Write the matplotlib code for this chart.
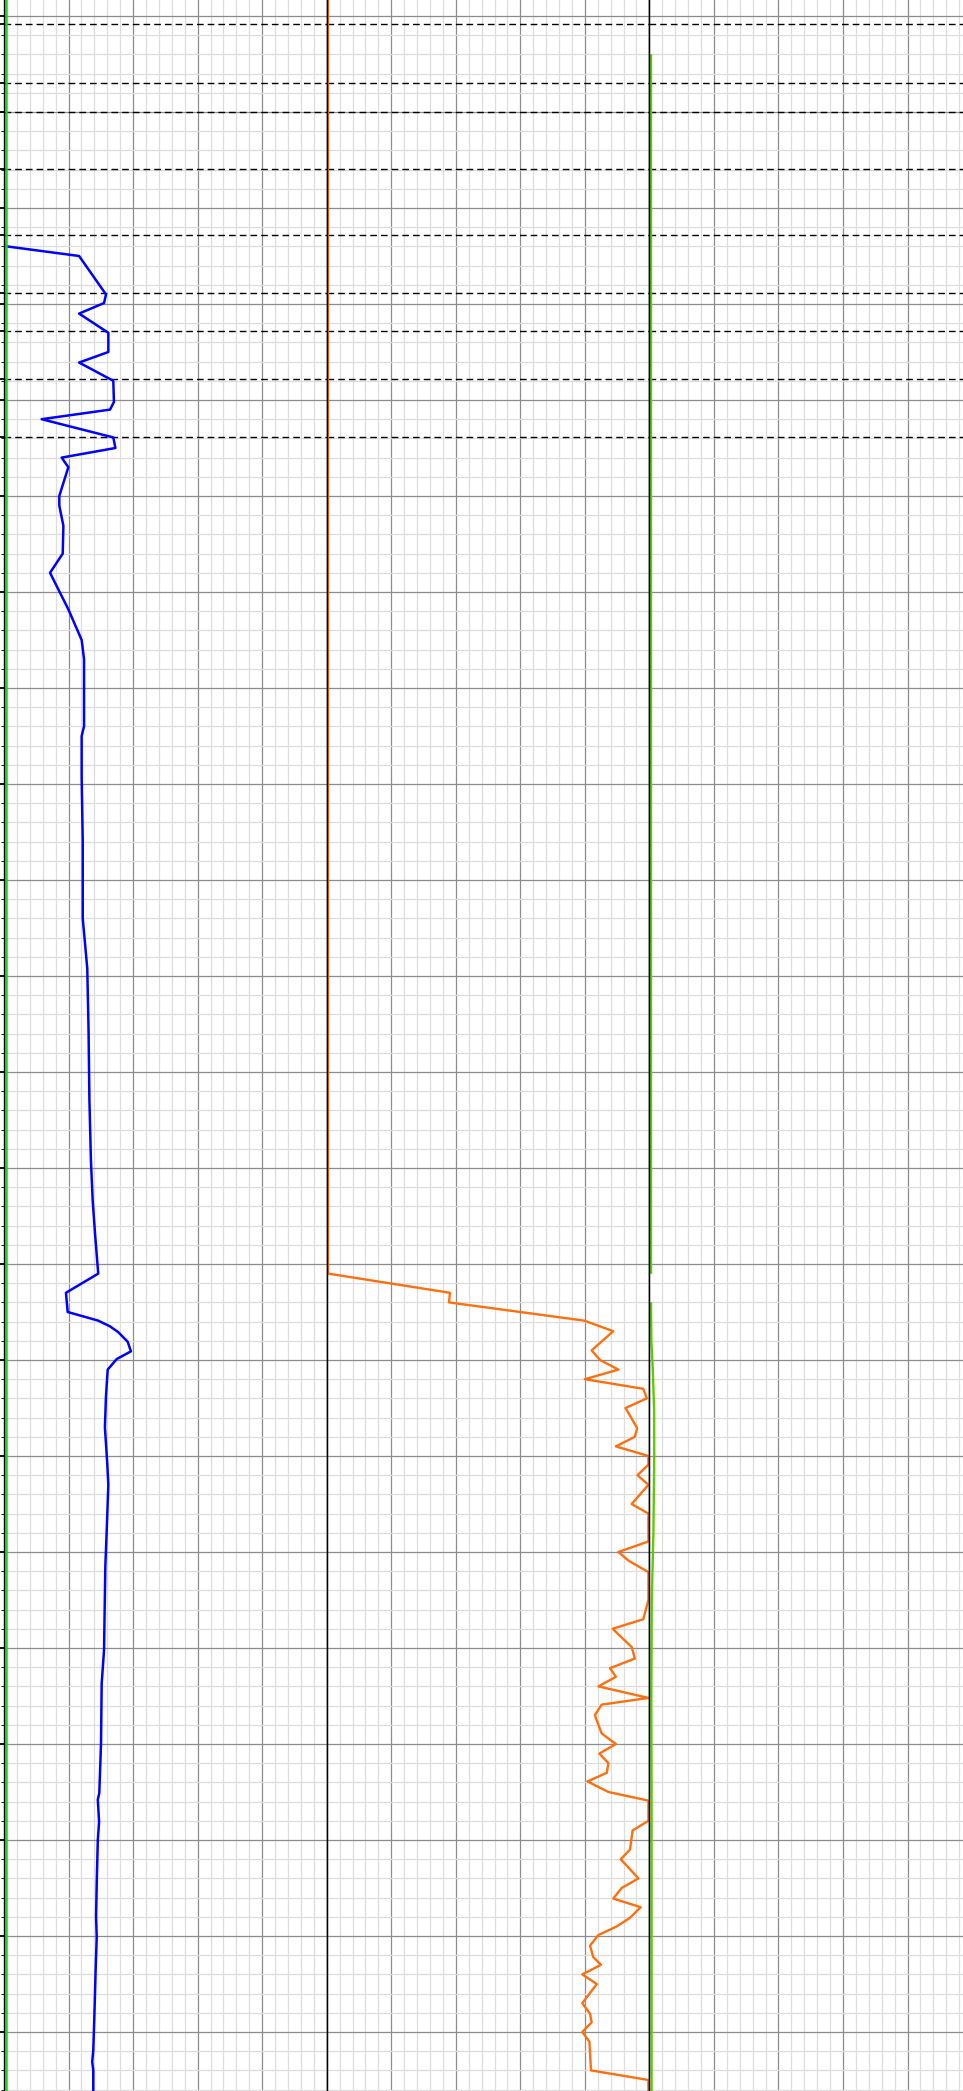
import numpy as np
import matplotlib.pyplot as plt
from matplotlib.ticker import MultipleLocator

# formation tops (m), drawn as dashed lines across all tracks
tops = [1000.8, 1007.0, 1010.0, 1015.9, 1022.8, 1028.9, 1032.8, 1037.8, 1043.9]

# track 1 - gamma ray (blue)
gr_depth = [1024.0, 1025.0, 1029.0, 1029.9, 1031.0, 1033.0, 1035.0, 1036.1, 1038.0, 1040.2,
            1041.0, 1042.0, 1043.9, 1045.0, 1046.0, 1047.0, 1050.0, 1051.0, 1053.1, 1056.0,
            1058.0, 1061.8, 1065.0, 1067.0, 1074.0, 1075.0, 1079.3, 1086.0, 1094.0, 1099.2,
            1105.6, 1112.9, 1119.2, 1123.3, 1126.8, 1131.0, 1133.0, 1135.0, 1135.9, 1136.5,
            1137.1, 1138.1, 1139.1, 1139.9, 1141.0, 1143.8, 1147.0, 1150.8, 1153.0, 1158.0,
            1161.5, 1170.2, 1173.7, 1179.9, 1185.1, 1185.8, 1188.1, 1190.0, 1194.5, 1198.0,
            1200.1, 1203.5, 1208.4, 1211.9, 1213.1, 1214.0, 1216.5]
gr = [1.3, 34.9, 47.4, 46.5, 34.9, 48.5, 48.5, 34.9, 50.8, 51.1,
      49.3, 17.5, 50.8, 51.8, 26.8, 29.9, 25.7, 25.7, 27.6, 27.3,
      21.4, 29.9, 36.1, 37.2, 37.2, 36.1, 36.1, 36.6, 36.6, 38.7,
      39.3, 39.7, 40.4, 41.2, 42.3, 43.8, 28.8, 29.6, 43.8, 49.3,
      53.1, 57.5, 59.0, 52.4, 48.2, 47.4, 46.9, 48.0, 48.5, 47.7,
      47.1, 46.5, 45.4, 45.1, 44.3, 43.6, 44.2, 43.6, 43.1, 42.8,
      43.1, 42.6, 42.0, 41.5, 41.0, 41.5, 41.5]

# track 1 - second curve sitting on the left edge (green)
g1_depth = [998.0, 1217.0]
g1 = [1.0, 1.0]

# track 2 - orange curve
or_depth = [998.0, 1131.0, 1133.0, 1134.0, 1135.9, 1137.0, 1139.0, 1140.0, 1141.0, 1142.0,
            1143.0, 1144.0, 1145.0, 1146.1, 1147.1, 1148.0, 1149.0, 1150.0, 1150.9, 1152.0,
            1153.0, 1155.0, 1156.0, 1158.9, 1160.0, 1160.9, 1162.1, 1165.0, 1167.0, 1168.0,
            1169.9, 1171.1, 1172.1, 1173.0, 1174.0, 1175.2, 1175.9, 1177.0, 1178.9, 1180.0,
            1181.0, 1182.0, 1183.0, 1183.9, 1185.0, 1185.9, 1188.0, 1189.0, 1191.0, 1192.0,
            1194.0, 1195.0, 1196.1, 1197.0, 1198.1, 1199.0, 1199.9, 1201.0, 1202.2, 1203.0,
            1204.0, 1205.0, 1207.0, 1208.1, 1209.0, 1210.0, 1211.0, 1214.0, 1215.0, 1217.0]
orange = [0.4, 0.4, 38.2, 37.9, 79.8, 88.8, 82.1, 84.7, 90.4, 80.0,
          98.1, 99.2, 92.6, 94.5, 96.2, 95.5, 89.6, 99.7, 99.7, 96.3,
          99.7, 94.5, 99.7, 99.7, 90.4, 93.5, 99.7, 99.7, 98.1, 88.6,
          94.5, 95.5, 87.8, 89.6, 84.2, 99.7, 85.2, 83.1, 85.2, 89.6,
          84.5, 87.3, 86.8, 80.8, 87.3, 99.7, 99.7, 94.8, 94.0, 91.1,
          96.6, 91.4, 88.8, 97.3, 94.0, 89.9, 84.2, 81.6, 82.6, 85.0,
          79.2, 83.7, 79.2, 81.6, 82.1, 79.2, 81.4, 81.9, 99.7, 99.7]

# track 3 - green curve near the left edge, with a gap
g3_depth = [1004.1, 1130.9, np.nan, 1134.1, 1137.9, 1141.0, 1145.2, 1150.1, 1158.0, 1165.0,
            1175.1, 1185.8, 1217.0]
g3 = [0.5, 0.5, np.nan, 0.5, 0.6, 1.05, 1.46, 1.5, 1.24, 0.74,
      0.6, 0.68, 0.68]

top_depth = 1000 - 16 / 9.6
bottom_depth = top_depth + 2091 / 9.6

fig = plt.figure(figsize=(9.63, 20.91), dpi=100)
W = 963.0
x0 = 4.0
tw = 322.7
axes = []
for i in range(3):
    ax = fig.add_axes([(x0 + i * tw) / W, 0, tw / W, 1])
    axes.append(ax)

limits = [(0, 150, 30, 6), (0, 100, 20, 4), (0, 100, 20, 4)]
for ax, (lo, hi, mj, mn) in zip(axes, limits):
    ax.set_xlim(lo, hi)
    ax.set_ylim(bottom_depth, top_depth)
    ax.xaxis.set_major_locator(MultipleLocator(mj))
    ax.xaxis.set_minor_locator(MultipleLocator(mn))
    ax.yaxis.set_major_locator(MultipleLocator(10))
    ax.yaxis.set_minor_locator(MultipleLocator(2))
    ax.set_axisbelow(True)
    ax.grid(which='minor', color='#dddddd', lw=0.9)
    ax.grid(which='major', color='#8c8c8c', lw=0.9)
    ax.tick_params(which='both', bottom=False, top=False, labelbottom=False,
                   left=False, labelleft=False)
    ax.spines['top'].set_visible(False)
    ax.spines['bottom'].set_visible(False)
    for s in ['left', 'right']:
        ax.spines[s].set_color('black')
        ax.spines[s].set_linewidth(1.0)
    for t in tops:
        ax.axhline(t, color='black', lw=1.0, ls=(0, (4.8, 2.9)), zorder=1.8)

# depth tick marks on the left of track 1
axes[0].tick_params(axis='y', which='major', left=True, length=3, width=1.3, color='black')

tops_ax = axes[0].twinx()
tops_ax.set_ylim(bottom_depth, top_depth)
tops_ax.yaxis.set_ticks_position('left')
tops_ax.set_yticks(tops)
tops_ax.tick_params(axis='y', length=3, width=1.3, color='black', labelleft=False, labelright=False)
for s in tops_ax.spines.values():
    s.set_visible(False)

axes[0].plot(gr, gr_depth, color='#0000ff', lw=1.8)
axes[0].plot(g1, g1_depth, color='#1fd21f', lw=1.8)
axes[1].plot(orange, or_depth, color='#ff6f0f', lw=1.7)
axes[2].plot(g3, g3_depth, color='#5ccc00', lw=1.7)

fig.savefig('out.png', dpi=100)
